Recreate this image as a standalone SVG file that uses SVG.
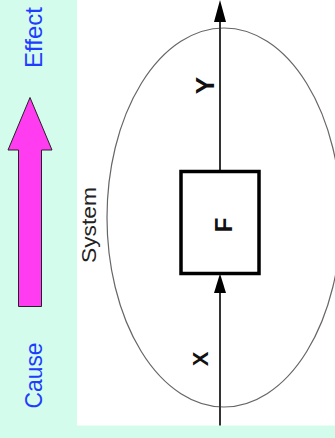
<svg xmlns="http://www.w3.org/2000/svg" width="335" height="438" viewBox="0 0 335 438">
  <style>
    .blue { font-family: "Liberation Sans", Arial, sans-serif; font-size: 24px; fill: #1f3cff; }
    .lbl { font-family: "Liberation Sans", Arial, sans-serif; font-weight: bold; fill: #111; }
    .sys { font-family: "Liberation Sans", Arial, sans-serif; font-size: 21px; fill: #222; }
    .wire { stroke: #333; stroke-width: 2; fill: none; }
    .head { fill: #000; }
  </style>
  <rect x="0" y="0" width="335" height="438" fill="#d4fcec"/>
  <rect x="77" y="0" width="258" height="425.5" fill="#ffffff"/>

  <g id="cause-effect">
    <polygon points="18.5,306.5 18.5,150 8,150 30,97.5 52,150 41.5,150 41.5,306.5" fill="#ff3cf0" stroke="#222" stroke-width="1"/>
    <text class="blue" transform="translate(42,375.5) rotate(-90)" text-anchor="middle" textLength="66" lengthAdjust="spacingAndGlyphs">Cause</text>
    <text class="blue" transform="translate(42,37.5) rotate(-90)" text-anchor="middle">Effect</text>
  </g>

  <g id="system">
    <ellipse cx="224" cy="217.5" rx="117" ry="189.5" fill="none" stroke="#666" stroke-width="1.2"/>
    <text class="sys" transform="translate(96,225) rotate(-90)" text-anchor="middle" textLength="76" lengthAdjust="spacingAndGlyphs">System</text>
  </g>

  <g id="connectors">
    <line class="wire" x1="220" y1="425.5" x2="220" y2="290"/>
    <polygon class="head" points="220,273.5 214,293 226,293"/>
    <line class="wire" x1="220" y1="171" x2="220" y2="20"/>
    <polygon class="head" points="220,0 214,22 226,22"/>
    <text class="lbl" font-size="26" transform="translate(214,85.5) rotate(-90)" text-anchor="middle">Y</text>
    <text class="lbl" font-size="22" transform="translate(208,359) rotate(-90)" text-anchor="middle">X</text>
  </g>

  <g id="node-F">
    <rect x="181" y="171.5" width="78" height="102" fill="#ffffff" stroke="#000" stroke-width="3.5"/>
    <text class="lbl" font-size="24" transform="translate(232,225) rotate(-90)" text-anchor="middle">F</text>
  </g>
</svg>
